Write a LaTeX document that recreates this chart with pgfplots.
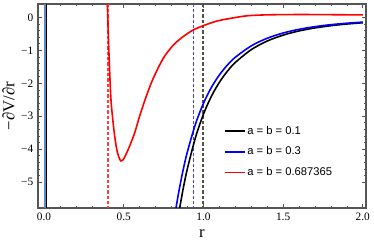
\documentclass[border=0pt]{standalone}
\usepackage{fontspec}
\setmainfont{Liberation Serif}
\newfontfamily\lsans{Liberation Sans}
\usepackage{pgfplots}
\pgfplotsset{compat=1.18}
\definecolor{framegray}{RGB}{85,85,85}
\definecolor{dred}{RGB}{255,60,60}
\definecolor{dblue}{RGB}{70,70,240}
\definecolor{dgray}{RGB}{80,80,80}
\definecolor{steel}{RGB}{95,135,195}
\begin{document}
\begin{tikzpicture}
\begin{axis}[
 scale only axis, width=246pt, height=153pt,
 xmin=-0.038, xmax=2.02, ymin=-5.79, ymax=0.41,
 axis line style={framegray, line width=0.9pt},
 tick style={framegray, line width=0.5pt},
 tick align=inside,
 major tick length=3pt, minor tick length=1.6pt,
 xtick={0,0.5,1,1.5,2}, xticklabels={0.0,0.5,1.0,1.5,2.0},
 ytick={-5,-4,-3,-2,-1,0}, yticklabels={−5,−4,−3,−2,−1,0},
 minor x tick num=4, minor y tick num=4,
 ticklabel style={font=\fontsize{8.5}{9}\selectfont},
 xlabel={r}, ylabel={−∂V/∂r},
 label style={font=\fontsize{12.5}{13}\selectfont},
 x label style={at={(axis description cs:0.5,0)}, anchor=center, yshift=-19.5pt},
 y label style={at={(axis description cs:-0.09,0.5)}, anchor=center},
 legend style={draw=none, fill=none, at={(0.567,0.41)}, anchor=north west,
   font=\lsans\fontsize{8.4}{10}\selectfont, row sep=6pt, inner sep=0pt,
   nodes={inner sep=1pt}},
 legend cell align=left,
 legend image code/.code={\draw[#1] (0pt,0pt) -- (15pt,0pt);},
]
\addplot[color=steel, line width=1.4pt, forget plot] coordinates {(0.006,-6) (0.006,1)};
\addplot[color=black, line width=0.8pt, forget plot] coordinates {(0.015,-6) (0.015,1)};
\addplot[color=dred, line width=1.2pt, dash pattern=on 2.5pt off 1.5pt, forget plot] coordinates {(0.40,-6) (0.40,1)};
\addplot[color=dblue, line width=1.3pt, dash pattern=on 2.5pt off 1.5pt, forget plot] coordinates {(0.938,-6) (0.938,1)};
\addplot[color=dgray, line width=1.2pt, dash pattern=on 2.5pt off 1.5pt, forget plot] coordinates {(0.997,-6) (0.997,1)};
\addplot[color=black, line width=1.2pt, smooth, forget plot] coordinates {
(0.83,-6.43) (0.85,-5.82) (0.875,-5.15) (0.9,-4.58) (0.95,-3.65) (1.0,-2.94)
(1.05,-2.395) (1.1,-1.970) (1.15,-1.635) (1.2,-1.367) (1.3,-0.977) (1.4,-0.716)
(1.5,-0.536) (1.6,-0.408) (1.7,-0.317) (1.8,-0.249) (1.9,-0.198) (2.0,-0.160)};
\addplot[color=blue, line width=1.2pt, smooth, forget plot] coordinates {
(0.81,-6.35) (0.83,-5.73) (0.85,-5.18) (0.875,-4.58) (0.9,-4.07) (0.95,-3.24) (1.0,-2.61)
(1.05,-2.124) (1.1,-1.746) (1.15,-1.447) (1.2,-1.209) (1.3,-0.863) (1.4,-0.631)
(1.5,-0.472) (1.6,-0.359) (1.7,-0.278) (1.8,-0.218) (1.9,-0.174) (2.0,-0.140)};
\addplot[color=red, line width=1.2pt, smooth, forget plot] coordinates {
(0.394,0.8) (0.398,0.3) (0.405,-0.8) (0.413,-1.8) (0.42,-2.51) (0.43,-3.05) (0.441,-3.52)
(0.452,-3.9) (0.462,-4.13) (0.473,-4.29) (0.483,-4.36) (0.495,-4.33) (0.51,-4.2)
(0.529,-4.0) (0.55,-3.75) (0.571,-3.47) (0.602,-2.96) (0.644,-2.36) (0.685,-1.85)
(0.748,-1.24) (0.811,-0.84) (0.873,-0.58) (0.936,-0.38) (0.999,-0.25) (1.083,-0.11)
(1.166,-0.03) (1.271,0.05) (1.396,0.08) (1.6,0.09) (1.8,0.085) (2.0,0.078)};
\addlegendimage{color=black, line width=1.3pt}
\addlegendentry{a = b = 0.1}
\addlegendimage{color=blue, line width=1.3pt}
\addlegendentry{a = b = 0.3}
\addlegendimage{color=red, line width=1.3pt}
\addlegendentry{a = b = 0.687365}
\end{axis}
\pgfresetboundingbox
\path[use as bounding box] (-28.5pt,-27.75pt) rectangle (252pt,156pt);
\end{tikzpicture}
\end{document}
